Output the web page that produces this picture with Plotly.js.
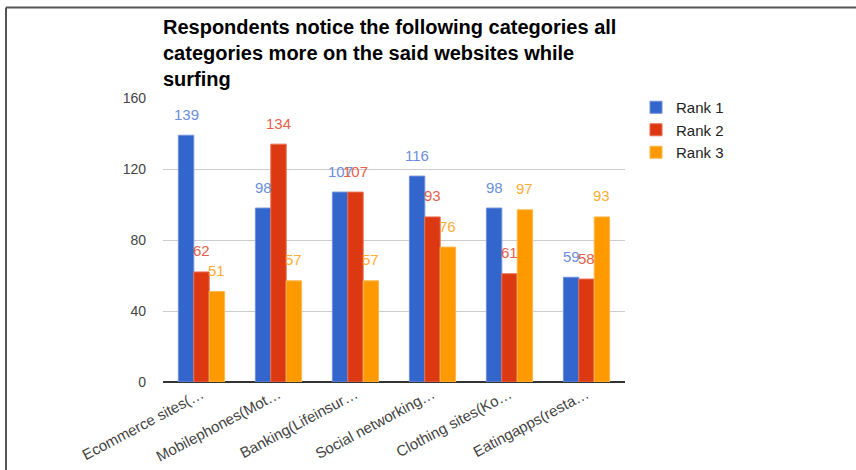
<!DOCTYPE html>
<html>
<head>
<meta charset="utf-8">
<script src="https://cdn.plot.ly/plotly-3.0.1.min.js"></script>
<style>
  html, body { margin: 0; padding: 0; background: #fff; }
  #chart { width: 856px; height: 470px; }
</style>
</head>
<body>
<div id="chart"></div>
<script>
// ---- Data ----
const categories = [
  "Ecommerce sites(\u2026",
  "Mobilephones(Mot\u2026",
  "Banking(Lifeinsur\u2026",
  "Social networking\u2026",
  "Clothing sites(Ko\u2026",
  "Eatingapps(resta\u2026"
];
const seriesNames = ["Rank 1", "Rank 2", "Rank 3"];
const rank1 = [139, 98, 107, 116, 98, 59];
const rank2 = [62, 134, 107, 93, 61, 58];
const rank3 = [51, 57, 57, 76, 97, 93];
const yTicks = [0, 40, 80, 120, 160];

// ---- Styles ----
const barColors = ["#3366cc", "#dc3912", "#ff9900"];
const barEdge = ["#6f8fdc", "#ea6d52", "#ffb84d"];
const labelColors = ["#6b8ee0", "#e6604a", "#ffad33"];
const FONT = "Arial, 'Liberation Sans', sans-serif";

const W = 856, H = 470;
const margin = { l: 163, r: 231, t: 98, b: 88, pad: 0 };
const plotW = W - margin.l - margin.r;
const plotH = H - margin.t - margin.b;
const bargap = 0.4;

const seriesVals = [rank1, rank2, rank3];

const traces = seriesVals.map((vals, i) => ({
  type: "bar",
  name: seriesNames[i],
  x: categories,
  y: vals,
  marker: { color: barColors[i], line: { color: barEdge[i], width: 1 } },
  hoverinfo: "x+y+name"
}));

// value labels above bars (offset like the original)
const pitch = (1 - bargap) * plotW / categories.length / seriesVals.length;
const annotations = [];
seriesVals.forEach((vals, i) => {
  vals.forEach((v, j) => {
    annotations.push({
      x: categories[j], y: v, xref: "x", yref: "y",
      text: String(v), showarrow: false,
      xanchor: "center", yanchor: "middle",
      xshift: (i - (seriesVals.length - 1) / 2) * pitch,
      yshift: 21,
      font: { family: FONT, size: 15, color: labelColors[i] }
    });
  });
});

// frame (top and left edges of the screenshot border)
const px2x = px => (px - margin.l) / plotW;
const py2y = py => (H - margin.b - py) / plotH;
const shapes = [
  { type: "line", xref: "paper", yref: "paper", x0: px2x(6), x1: px2x(W + 5), y0: py2y(7.5), y1: py2y(7.5), line: { color: "#555", width: 2 } },
  { type: "line", xref: "paper", yref: "paper", x0: px2x(6), x1: px2x(6), y0: py2y(7.5), y1: py2y(H + 5), line: { color: "#555", width: 2 } }
];

const layout = {
  width: W, height: H,
  margin: margin,
  paper_bgcolor: "#fff", plot_bgcolor: "#fff",
  font: { family: FONT, size: 14, color: "#444" },
  title: {
    text: "<b>Respondents notice the following categories all<br>categories more on the said websites while<br>surfing</b>",
    font: { family: FONT, size: 20, color: "#000" },
    x: margin.l / W, xanchor: "left", xref: "container",
    y: 1 - 34 / H, yanchor: "top", yref: "container"
  },
  barmode: "group",
  bargap: bargap,
  bargroupgap: 0,
  showlegend: true,
  legend: {
    x: px2x(636), y: py2y(91), xanchor: "left", yanchor: "top",
    font: { family: FONT, size: 15, color: "#222" },
    bgcolor: "rgba(0,0,0,0)", tracegroupgap: 0
  },
  xaxis: {
    type: "category",
    tickangle: -28,
    tickfont: { family: FONT, size: 15, color: "#444" },
    showgrid: false, showline: false, zeroline: false,
    ticks: "", ticklen: 0
  },
  yaxis: {
    range: [0, 160],
    tickvals: yTicks,
    ticktext: yTicks.map(String),
    tickfont: { family: FONT, size: 14, color: "#444" },
    showgrid: true, gridcolor: "#cccccc", gridwidth: 1,
    zeroline: true, zerolinecolor: "#333", zerolinewidth: 1.5,
    showline: false, ticks: "", ticklabelstandoff: 16
  },
  annotations: annotations,
  shapes: shapes
};

Plotly.newPlot("chart", traces, layout, { displayModeBar: false, staticPlot: true });
</script>
</body>
</html>
